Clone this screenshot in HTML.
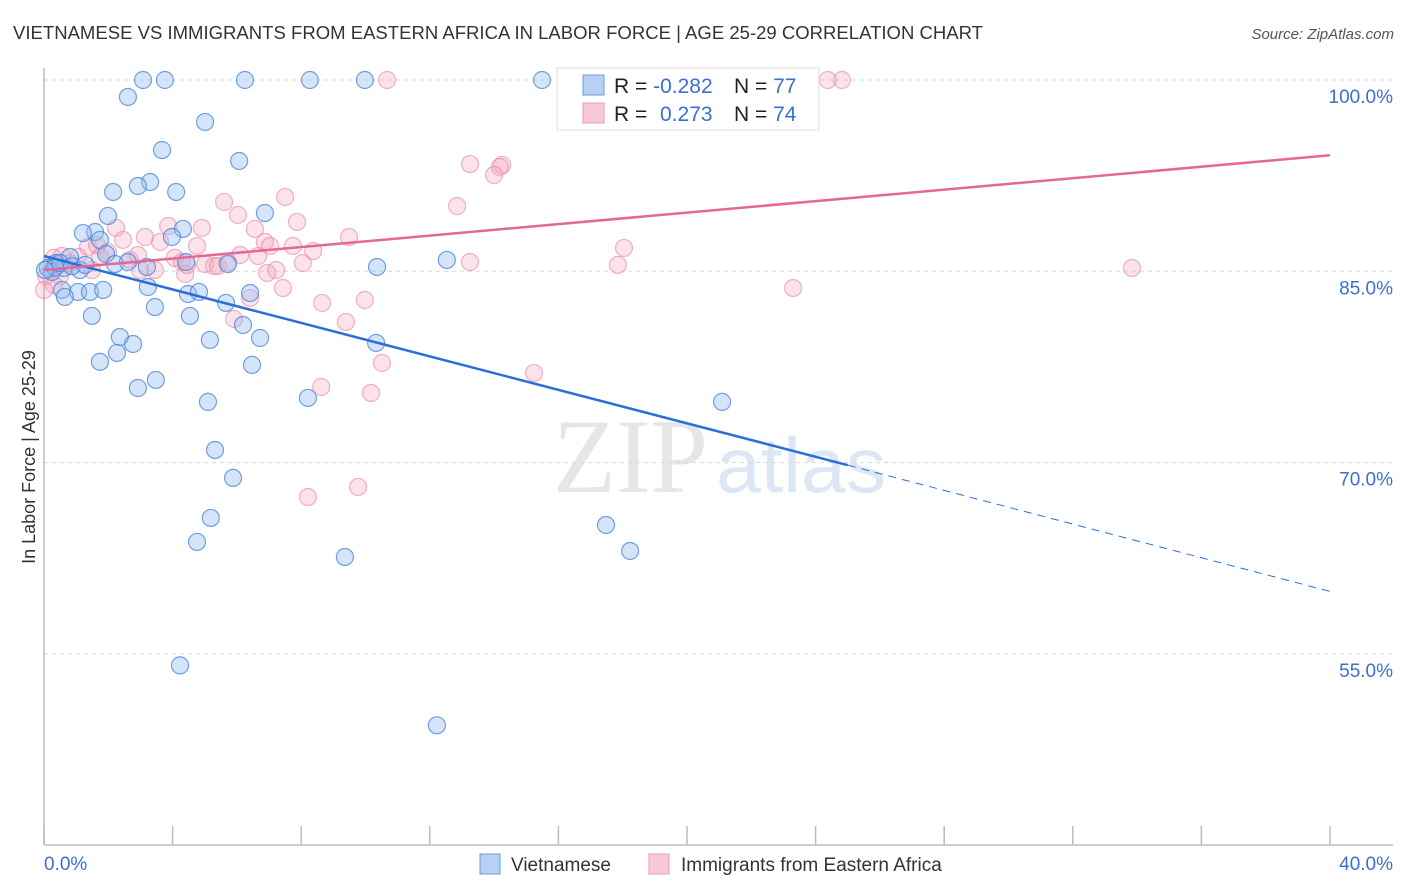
<!DOCTYPE html>
<html><head><meta charset="utf-8"><style>
html,body{margin:0;padding:0;background:#fff;}
svg{display:block;font-family:"Liberation Sans",sans-serif;}
</style></head><body>
<svg id="chart" width="1406" height="892" viewBox="0 0 1406 892">
<text x="13" y="39" font-size="18" fill="#333" textLength="970" lengthAdjust="spacingAndGlyphs">VIETNAMESE VS IMMIGRANTS FROM EASTERN AFRICA IN LABOR FORCE | AGE 25-29 CORRELATION CHART</text>
<text x="1394" y="39" font-size="15" font-style="italic" fill="#555" text-anchor="end">Source: ZipAtlas.com</text>
<g>
<text x="553" y="492" font-family="Liberation Serif,serif" font-size="106" fill="#e6e6e6" textLength="155" lengthAdjust="spacingAndGlyphs">ZIP</text>
<text x="716" y="492" font-size="78" fill="#dce7f5" textLength="170" lengthAdjust="spacingAndGlyphs">atlas</text>
</g>
<g id="grid"></g>
<g id="axes"></g>
<g id="marks"></g>
<g id="trends"></g>
<text x="35" y="457" font-size="18" fill="#333" text-anchor="middle" transform="rotate(-90 35 457)">In Labor Force | Age 25-29</text>
<g>
<rect x="557" y="68" width="262" height="62" fill="#fff" stroke="#ddd"/>
<rect x="583" y="75" width="21" height="20" fill="#b7d1f3" stroke="#6a9be0"/>
<rect x="583" y="103" width="21" height="20" fill="#f9c8d6" stroke="#ea9bb3"/>
<text x="614" y="93" font-size="21" fill="#222">R = <tspan fill="#3a70cf">-0.282</tspan></text>
<text x="734" y="93" font-size="21" fill="#222">N = <tspan fill="#3a70cf">77</tspan></text>
<text x="614" y="121" font-size="21" fill="#222">R = <tspan x="660" fill="#3a70cf">0.273</tspan></text>
<text x="734" y="121" font-size="21" fill="#222">N = <tspan fill="#3a70cf">74</tspan></text>
</g>
<g>
<rect x="480" y="854" width="20" height="20" fill="#b7d1f3" stroke="#6a9be0"/>
<text x="511" y="871" font-size="19" fill="#333">Vietnamese</text>
<rect x="649" y="854" width="20" height="20" fill="#f9c8d6" stroke="#ea9bb3"/>
<text x="681" y="871" font-size="19" fill="#333">Immigrants from Eastern Africa</text>
</g>
</svg>
<script>
const xTicks = [0,4,8,12,16,20,24,28,32,36,40];
const yTicks = [100,85,70,55];
const yTickLabels = ["100.0%","85.0%","70.0%","55.0%"];
const xEndLabels = ["0.0%","40.0%"];
const blueX = [3.08,3.76,6.25,8.27,9.98,15.49,2.61,5.01,3.67,6.07,3.30,2.92,2.15,4.11,1.99,6.87,4.32,1.59,1.21,1.74,3.98,1.93,0.81,0.37,0.12,0.25,0.62,1.12,2.21,2.61,3.20,4.42,5.72,10.36,12.53,0.56,1.06,1.43,1.84,3.23,4.48,4.82,6.41,0.65,3.45,1.49,4.54,5.66,6.19,2.36,2.77,5.16,6.72,10.33,2.27,1.74,6.47,3.48,2.92,8.21,5.10,21.09,5.32,5.88,5.19,17.48,4.76,18.23,9.36,4.23,12.22,0.34,0.50,0.87,0.03,1.28];
const blueY = [100,100,100,100,100,100,98.67,96.71,94.51,93.65,92.0,91.69,91.22,91.22,89.34,89.57,88.32,88.08,88.0,87.46,87.69,86.36,86.12,85.65,85.26,84.95,85.26,85.1,85.57,85.73,85.34,85.73,85.57,85.34,85.89,83.54,83.38,83.38,83.54,83.77,83.22,83.38,83.3,82.99,82.2,81.5,81.5,82.52,80.79,79.85,79.3,79.62,79.77,79.38,78.6,77.9,77.66,76.48,75.85,75.07,74.76,74.76,70.99,68.8,65.66,65.11,63.78,63.07,62.6,54.1,49.4,85.3,85.65,85.4,85.1,85.5];
const pinkX = [10.67,17.29,24.38,24.82,13.25,14.25,14.18,14.0,12.85,7.50,5.60,6.03,7.87,3.86,4.91,2.24,9.49,2.46,3.14,3.61,1.37,1.65,4.76,6.87,7.74,8.37,18.04,1.99,1.06,0.56,0.31,2.67,4.07,4.29,5.01,5.29,5.41,7.03,8.05,13.25,17.85,33.84,3.45,4.39,7.22,0.50,0.06,7.43,23.30,6.41,8.65,9.98,5.91,9.39,10.51,8.62,10.17,15.24,8.21,9.77,0.31,0.81,1.74,2.92,6.10,6.66,5.72,6.94,0.0,1.49,6.56,4.45,2.99,0.34];
const pinkY = [100,100,100,100,93.41,93.34,93.18,92.55,90.12,90.83,90.44,89.42,88.87,88.55,88.4,88.4,87.69,87.46,87.69,87.3,86.91,87.06,86.99,87.3,86.99,86.59,86.83,86.52,86.12,86.2,86.05,85.89,86.05,85.73,85.57,85.42,85.42,86.99,85.65,85.73,85.5,85.26,85.1,84.79,85.1,84.63,84.63,83.69,83.69,82.91,82.52,82.75,81.26,81.03,77.81,75.93,75.46,77.03,67.3,68.09,83.93,85.65,86.12,86.28,86.28,86.2,85.73,84.87,83.54,85.1,88.32,85.5,85.1,85.5];
const blueTrendX = [0,25,40];
const blueTrendY = [86.2,69.8,59.9];
const pinkTrendX = [0,40];
const pinkTrendY = [85.1,94.1];

const NS="http://www.w3.org/2000/svg";
const X0=44,X1=1330,Y100=80,PXPER=191.3/15;
function sx(v){return X0+(v/40)*(X1-X0);}
function sy(v){return Y100+(100-v)*PXPER;}
function mk(tag,attrs,parent){const e=document.createElementNS(NS,tag);for(const k in attrs)e.setAttribute(k,attrs[k]);parent.appendChild(e);return e;}
const grid=document.getElementById('grid'),axes=document.getElementById('axes'),marks=document.getElementById('marks'),trends=document.getElementById('trends');
yTicks.forEach((t,i)=>{
  const l=mk('line',{x1:X0,x2:1393,y1:sy(t),y2:sy(t),stroke:'#d8d8d8','stroke-dasharray':'4,4'},grid);
  
  
  const tx=mk('text',{x:1393,y:sy(t)+23,'font-size':19,fill:'#3a70cf','text-anchor':'end'},grid);
  tx.textContent=yTickLabels[i];
  
  
});
const ya=mk('line',{x1:X0,x2:X0,y1:68,y2:845,stroke:'#bbb','stroke-width':1.5},axes);


const xa=mk('line',{x1:X0,x2:1393,y1:845,y2:845,stroke:'#bbb','stroke-width':1.5},axes);


xTicks.forEach(t=>{
  const l=mk('line',{x1:sx(t),x2:sx(t),y1:826,y2:845,stroke:'#bbb','stroke-width':1.5},axes);
  
  
});
const xl0=mk('text',{x:44,y:870,'font-size':19,fill:'#3a70cf'},axes);xl0.textContent=xEndLabels[0];


const xl1=mk('text',{x:1393,y:870,'font-size':19,fill:'#3a70cf','text-anchor':'end'},axes);xl1.textContent=xEndLabels[1];


pinkX.forEach((v,i)=>{
  const c=mk('circle',{cx:sx(v),cy:sy(pinkY[i]),r:8.5,fill:'rgba(244,160,186,0.3)',stroke:'rgba(232,130,162,0.6)','stroke-width':1.2},marks);
  
  
});
blueX.forEach((v,i)=>{
  const c=mk('circle',{cx:sx(v),cy:sy(blueY[i]),r:8.5,fill:'rgba(150,190,240,0.4)',stroke:'rgba(70,130,215,0.75)','stroke-width':1.2},marks);
  
  
});
const bs=mk('line',{x1:sx(blueTrendX[0]),y1:sy(blueTrendY[0]),x2:sx(blueTrendX[1]),y2:sy(blueTrendY[1]),stroke:'#2a6fd6','stroke-width':2.5},trends);


const bd=mk('line',{x1:sx(blueTrendX[1]),y1:sy(blueTrendY[1]),x2:sx(blueTrendX[2]),y2:sy(blueTrendY[2]),stroke:'#2a6fd6','stroke-width':1,'stroke-dasharray':'8,6'},trends);


const ps=mk('line',{x1:sx(pinkTrendX[0]),y1:sy(pinkTrendY[0]),x2:sx(pinkTrendX[1]),y2:sy(pinkTrendY[1]),stroke:'#e5679a','stroke-width':2.5},trends);


</script>
</body></html>
